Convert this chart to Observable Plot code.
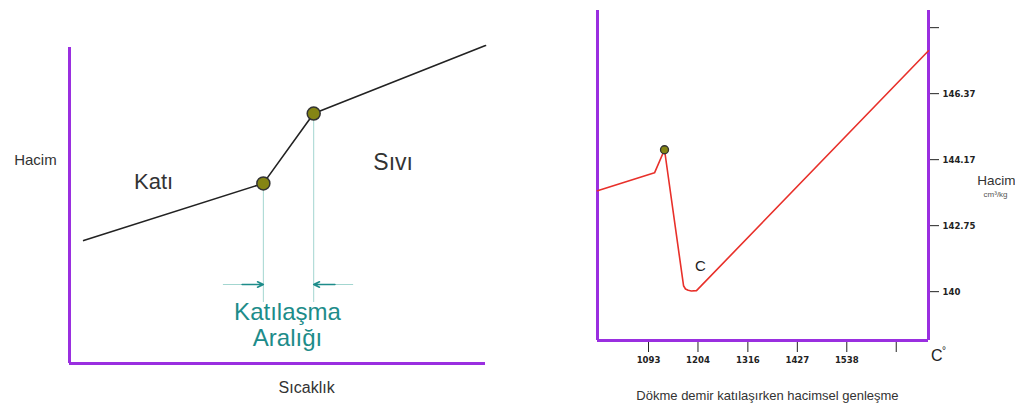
<!DOCTYPE html>
<html>
<head>
<meta charset="utf-8">
<script src="https://cdn.jsdelivr.net/npm/d3@7"></script>
<script src="https://cdn.jsdelivr.net/npm/@observablehq/plot@0.6"></script>
<style>
  html, body { margin: 0; padding: 0; background: #fff; }
  #wrap { position: relative; width: 1015px; height: 405px; overflow: hidden; font-family: "Liberation Sans", Arial, sans-serif; }
  #left, #right { position: absolute; top: 0; }
  #left { left: 0; }
  #right { left: 500px; }
</style>
</head>
<body>
<div id="wrap"><div id="left"></div><div id="right"></div></div>
<script>
// ---------- Left panel data (abstract units 0..100) ----------
const leftTemp = [3.4, 46.6, 58.7, 100];
const leftVol  = [38.9, 57.0, 79.1, 100.6];
const leftDotIdx = [1, 2];

// ---------- Right panel data ----------
const rightTemp  = [978.5, 1106.5, 1128.9, 1171.6, 1176, 1182, 1189, 1200.7, 1721.4];
const rightLevel = [1.53, 1.80, 2.15, 0.09, 0.04, 0.02, 0.01, 0.015, 3.65];
const rightPeakIdx = [2];
const xTickValues = [1093, 1204, 1316, 1427, 1538, 1649];
const xTickLabels = ["1093", "1204", "1316", "1427", "1538", ""];
const yTickLevels = [0, 1, 2, 3, 4];
const yTickLabels = ["140", "142.75", "144.17", "146.37", ""];

const purple = "#9a2fe0";
const teal = "#1d8c8a";
const lightTeal = "#a3d6d0";
const olive = "#858514";
const red = "#e8302a";
const font = "Liberation Sans, Arial, sans-serif";

// ---------- Left chart ----------
const leftPts = leftTemp.map((t, i) => ({t, v: leftVol[i]}));
const dots = leftDotIdx.map(i => leftPts[i]);

const left = Plot.plot({
  width: 500, height: 405,
  marginLeft: 69, marginRight: 15, marginTop: 47, marginBottom: 42,
  x: {domain: [0, 100], axis: null},
  y: {domain: [0, 100], axis: null},
  style: {fontFamily: font, background: "transparent"},
  marks: [
    Plot.ruleX([0], {stroke: purple, strokeWidth: 3}),
    Plot.ruleY([0], {stroke: purple, strokeWidth: 3}),
    Plot.ruleX(dots, {x: "t", y1: 19.3, y2: "v", stroke: lightTeal, strokeWidth: 1}),
    Plot.ruleY([{x1: 37.0, x2: dots[0].t}, {x1: 68.3, x2: dots[1].t}], {
      x1: "x1", x2: "x2", y: 25, stroke: lightTeal, strokeWidth: 1
    }),
    Plot.arrow([{x1: 41.5, x2: dots[0].t}, {x1: 63.8, x2: dots[1].t}], {
      x1: "x1", x2: "x2", y1: 25, y2: 25, stroke: teal, strokeWidth: 1.6, headLength: 6, headAngle: 50
    }),
    Plot.line(leftPts, {x: "t", y: "v", stroke: "#222", strokeWidth: 1.6}),
    Plot.dot(dots, {x: "t", y: "v", r: 6.5, fill: olive, stroke: "#333", strokeWidth: 1.5}),
    Plot.text(["Hacim"], {x: -8.2, y: 64.2, text: d => d, fontSize: 15, fill: "#333", lineAnchor: "middle"}),
    Plot.text(["Katı"], {x: 20.2, y: 57.6, text: d => d, fontSize: 22, fill: "#333", lineAnchor: "middle"}),
    Plot.text(["Sıvı"], {x: 77.8, y: 63.6, text: d => d, fontSize: 23, fill: "#333", lineAnchor: "middle"}),
    Plot.text(["Katılaşma"], {x: 52.4, y: 16.3, text: d => d, fontSize: 24, fill: teal, lineAnchor: "middle"}),
    Plot.text(["Aralığı"], {x: 52.4, y: 7.9, text: d => d, fontSize: 24, fill: teal, lineAnchor: "middle"}),
    Plot.text(["Sıcaklık"], {x: 57.0, y: -7.8, text: d => d, fontSize: 16, fill: "#333", lineAnchor: "middle"})
  ]
});
document.getElementById("left").appendChild(left);

// ---------- Right chart ----------
const rightPts = rightTemp.map((t, i) => ({t, v: rightLevel[i]}));
const peak = rightPeakIdx.map(i => rightPts[i]);
const xMin = 978.5, xMax = 1721.4, yMin = -0.74, yMax = 4.26;
const tickFont = "Liberation Sans Narrow, DejaVu Sans Condensed, Arial Narrow, sans-serif";

const right = Plot.plot({
  width: 515, height: 405,
  marginLeft: 97, marginRight: 87, marginTop: 10, marginBottom: 65,
  x: {domain: [xMin, xMax]},
  y: {domain: [yMin, yMax]},
  style: {fontFamily: font, background: "transparent"},
  marks: [
    Plot.axisX({
      ticks: xTickValues, tickFormat: (d, i) => xTickLabels[i], tickSize: 10, tickPadding: 4,
      fontSize: 9.5, fontWeight: "bold", fontFamily: tickFont, stroke: "#222", fill: "#222", label: null, dy: 2
    }),
    Plot.axisY({
      anchor: "right", ticks: yTickLevels, tickFormat: (d, i) => yTickLabels[i], tickSize: 10, tickPadding: 4,
      fontSize: 9.5, fontWeight: "bold", fontFamily: tickFont, stroke: "#222", fill: "#222", label: null
    }),
    Plot.ruleX([xMin, xMax], {stroke: purple, strokeWidth: 3}),
    Plot.ruleY([yMin], {stroke: purple, strokeWidth: 3}),
    Plot.line(rightPts, {x: "t", y: "v", stroke: red, strokeWidth: 1.6}),
    Plot.dot(peak, {x: "t", y: "v", r: 4, fill: olive, stroke: "#333", strokeWidth: 1.3}),
    Plot.text(["C"], {x: 1209.7, y: 0.39, text: d => d, fontSize: 15, fill: "#222", lineAnchor: "middle"}),
    Plot.text(["C"], {x: 1740, y: -0.97, text: d => d, fontSize: 16, fill: "#222", lineAnchor: "middle"}),
    Plot.text(["°"], {x: 1756, y: -0.9, text: d => d, fontSize: 10, fill: "#222", lineAnchor: "middle"}),
    Plot.text(["Hacim"], {x: 1831, y: 1.68, text: d => d, fontSize: 13.5, fill: "#333", textAnchor: "start", lineAnchor: "middle"}),
    Plot.text(["cm³/kg"], {x: 1845, y: 1.48, text: d => d, fontSize: 8, fill: "#555", textAnchor: "start", lineAnchor: "middle"}),
    Plot.text(["Dökme demir katılaşırken hacimsel genleşme"], {x: 1360, y: -1.58, text: d => d, fontSize: 13, fill: "#333", lineAnchor: "middle"})
  ]
});
document.getElementById("right").appendChild(right);
</script>
</body>
</html>
